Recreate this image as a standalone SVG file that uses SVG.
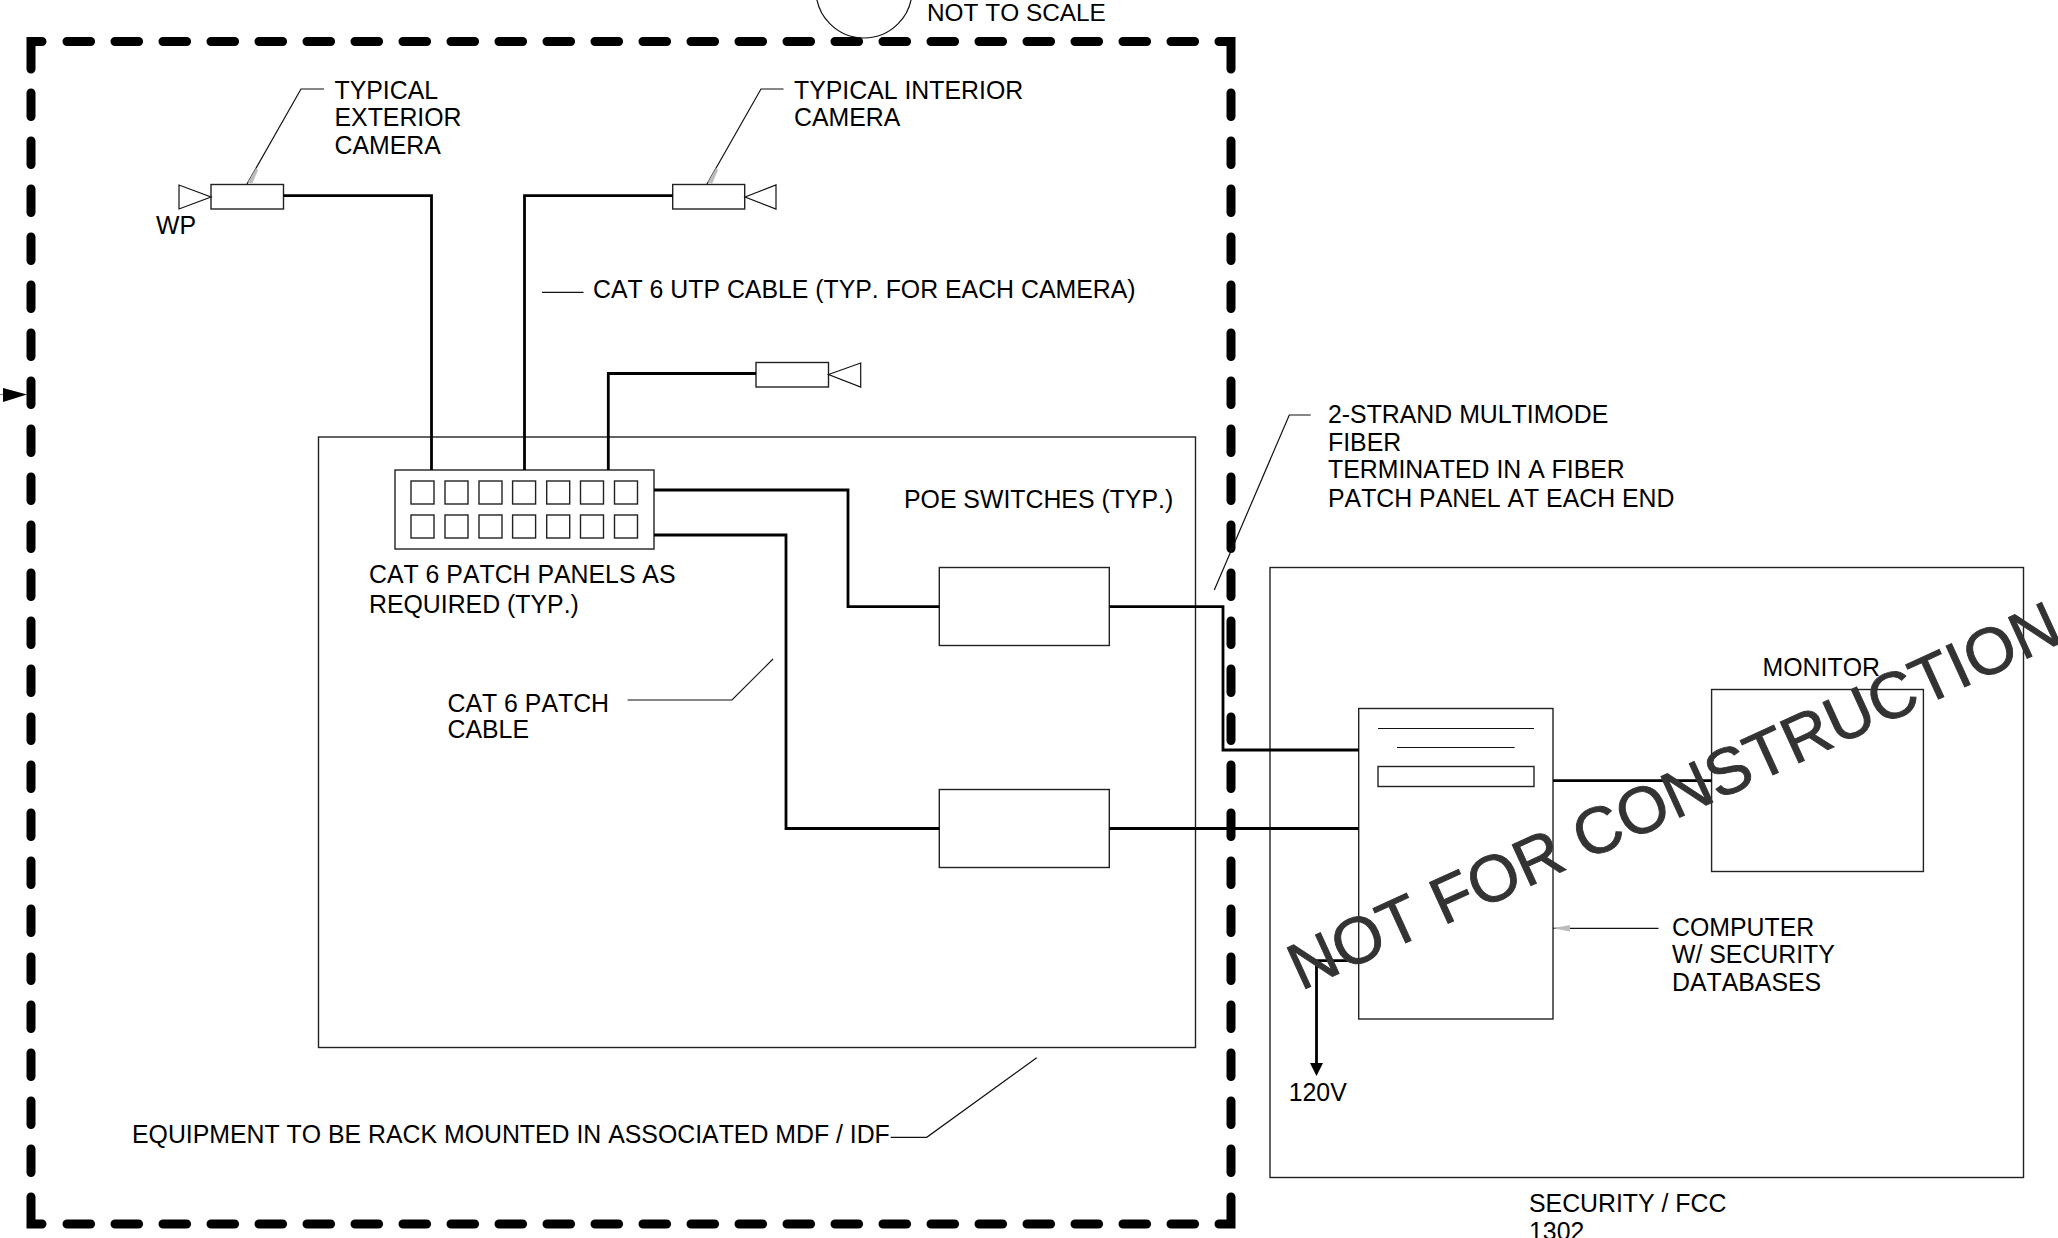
<svg xmlns="http://www.w3.org/2000/svg" width="2058" height="1238" viewBox="0 0 2058 1238">
<style>
text{font-family:"Liberation Sans",Arial,sans-serif;font-size:24.85px;fill:#000;font-kerning:none}
.b{fill:none;stroke:#222;stroke-width:1.4}
.t{fill:none;stroke:#111;stroke-width:1.2}
.c{fill:none;stroke:#000;stroke-width:2.8}
.d{fill:none;stroke:#000;stroke-width:9;stroke-linecap:round;stroke-linejoin:miter}
.s{stroke-dasharray:23.6 24.4}
.g{fill:#bbb;stroke:none}
text.n{font-size:24.4px}
text.w{font-size:65.5px;fill:#333;stroke:#333;stroke-width:.9}
</style>
<rect width="2058" height="1238" fill="#fff"/>
<g id="boundary">
<path class="d s" d="M67 41.5H1195"/>
<path class="d s" d="M67 1224H1195"/>
<path class="d s" d="M31 93V1174"/>
<path class="d s" d="M1231 93V1174"/>
<path class="d" d="M42 41.5H31V69"/>
<path class="d" d="M1219 41.5H1231V69"/>
<path class="d" d="M31 1197V1224H42"/>
<path class="d" d="M1219 1224H1231V1197"/>
</g>
<g id="section-marker">
<circle class="t" cx="864" cy="-10" r="48"/>
<text class="n" x="927" y="21">NOT TO SCALE</text>
<path d="M0 394.500H4" stroke="#888" stroke-width="1.200"/>
<polygon points="3,388 27,394.500 3,402" fill="#000"/>
</g>
<g id="rack-box"><rect class="b" x="318.500" y="437" width="877" height="610.500"/></g>
<g id="room-box"><rect class="b" x="1270" y="567.500" width="753.500" height="610"/>
<text x="1529" y="1212">SECURITY / FCC</text><text x="1529" y="1240">1302</text></g>
<g id="camera-exterior">
<rect class="b" x="211" y="184.500" width="72.500" height="24.500"/>
<polygon class="t" points="179,185 179,209 211,197"/>
<text x="156" y="234">WP</text>
<path class="t" d="M324 89H301L247 184"/>
<polygon class="g" points="248,182 256,168 258,170 252,184"/>
<text x="334.500" y="98.700">TYPICAL</text><text x="334.500" y="126">EXTERIOR</text><text x="334.500" y="154">CAMERA</text>
</g>
<g id="camera-interior">
<rect class="b" x="672.700" y="184.500" width="72" height="24.500"/>
<polygon class="t" points="745,197 776,185 776,209"/>
<path class="t" d="M783.500 89H761L707 184"/>
<polygon class="g" points="708,182 716,168 718,170 712,184"/>
<text x="794" y="98.700">TYPICAL INTERIOR</text><text x="794" y="126">CAMERA</text>
</g>
<g id="camera-third">
<rect class="b" x="756" y="362.500" width="72.500" height="24.500"/>
<polygon class="t" points="828.500,374.500 860.700,363 860.700,387"/>
</g>
<g id="patch-panel">
<rect class="b" x="395" y="470" width="259" height="79"/>
<g class="b">
<rect x="411" y="481" width="23" height="23"/><rect x="445" y="481" width="23" height="23"/><rect x="479" y="481" width="23" height="23"/><rect x="512.600" y="481" width="23" height="23"/><rect x="546.700" y="481" width="23" height="23"/><rect x="580.500" y="481" width="23" height="23"/><rect x="614.500" y="481" width="23" height="23"/>
<rect x="411" y="515" width="23" height="23"/><rect x="445" y="515" width="23" height="23"/><rect x="479" y="515" width="23" height="23"/><rect x="512.600" y="515" width="23" height="23"/><rect x="546.700" y="515" width="23" height="23"/><rect x="580.500" y="515" width="23" height="23"/><rect x="614.500" y="515" width="23" height="23"/>
</g>
<text x="369" y="582.700">CAT 6 PATCH PANELS AS</text><text x="369" y="612.700">REQUIRED (TYP.)</text>
</g>
<g id="switch-1"><rect class="b" x="939.300" y="567.500" width="170" height="78"/></g>
<g id="switch-2"><rect class="b" x="939.300" y="789.500" width="170" height="78"/></g>
<g id="computer">
<rect class="b" x="1358.700" y="708.500" width="194.300" height="310.500"/>
<path class="t" d="M1378 728.500H1534M1397 747.500H1514.600"/>
<rect class="b" x="1378" y="766.500" width="156" height="20"/>
<path class="t" d="M1658.500 928.300H1553"/>
<polygon class="g" points="1553,928.300 1570,925 1570,931.500"/>
<text x="1672" y="936">COMPUTER</text><text x="1672" y="963.300">W/ SECURITY</text><text x="1672" y="990.700">DATABASES</text>
</g>
<g id="monitor"><rect class="b" x="1711.600" y="689.500" width="211.800" height="182"/><text x="1762.600" y="675.700">MONITOR</text></g>
<g id="connectors">
<path class="c" d="M283.500 195.700H431.500V470"/>
<path class="c" d="M672.700 195.700H524.500V470"/>
<path class="c" d="M756 373.500H608.300V470"/>
<path class="c" d="M654 490H848V606.700H939.300"/>
<path class="c" d="M654 535H786V828.500H939.300"/>
<path class="c" d="M1109.300 606.700H1223V750H1358.700"/>
<path class="c" d="M1109.300 828.500H1358.700"/>
<path class="c" d="M1553 780.700H1711.600"/>
<path class="c" d="M1358.700 960.700H1316.500V1064"/>
<polygon points="1310,1063 1323,1063 1316.500,1076" fill="#000"/>
</g>
<g id="labels">
<path class="t" d="M542 292.300H583.500"/>
<text x="593" y="297.500">CAT 6 UTP CABLE (TYP. FOR EACH CAMERA)</text>
<text x="447.500" y="711.700">CAT 6 PATCH</text><text x="447.500" y="738">CABLE</text>
<path class="t" d="M627.600 700H732L773 659"/>
<text x="904" y="507.700">POE SWITCHES (TYP.)</text>
<text x="1328" y="422.700">2-STRAND MULTIMODE</text><text x="1328" y="450.700">FIBER</text><text x="1328" y="478.300">TERMINATED IN A FIBER</text><text x="1328" y="506.700">PATCH PANEL AT EACH END</text>
<path class="t" d="M1310.700 415H1289.300L1214.300 590"/>
<text x="1288.700" y="1100.700">120V</text>
<text x="132" y="1143">EQUIPMENT TO BE RACK MOUNTED IN ASSOCIATED MDF / IDF</text>
<path class="t" d="M890.700 1137.300H926.700L1036.700 1057.700"/>
</g>
<text class="w" transform="translate(1301 991) rotate(-24.600)">NOT FOR CONSTRUCTION</text>
</svg>
